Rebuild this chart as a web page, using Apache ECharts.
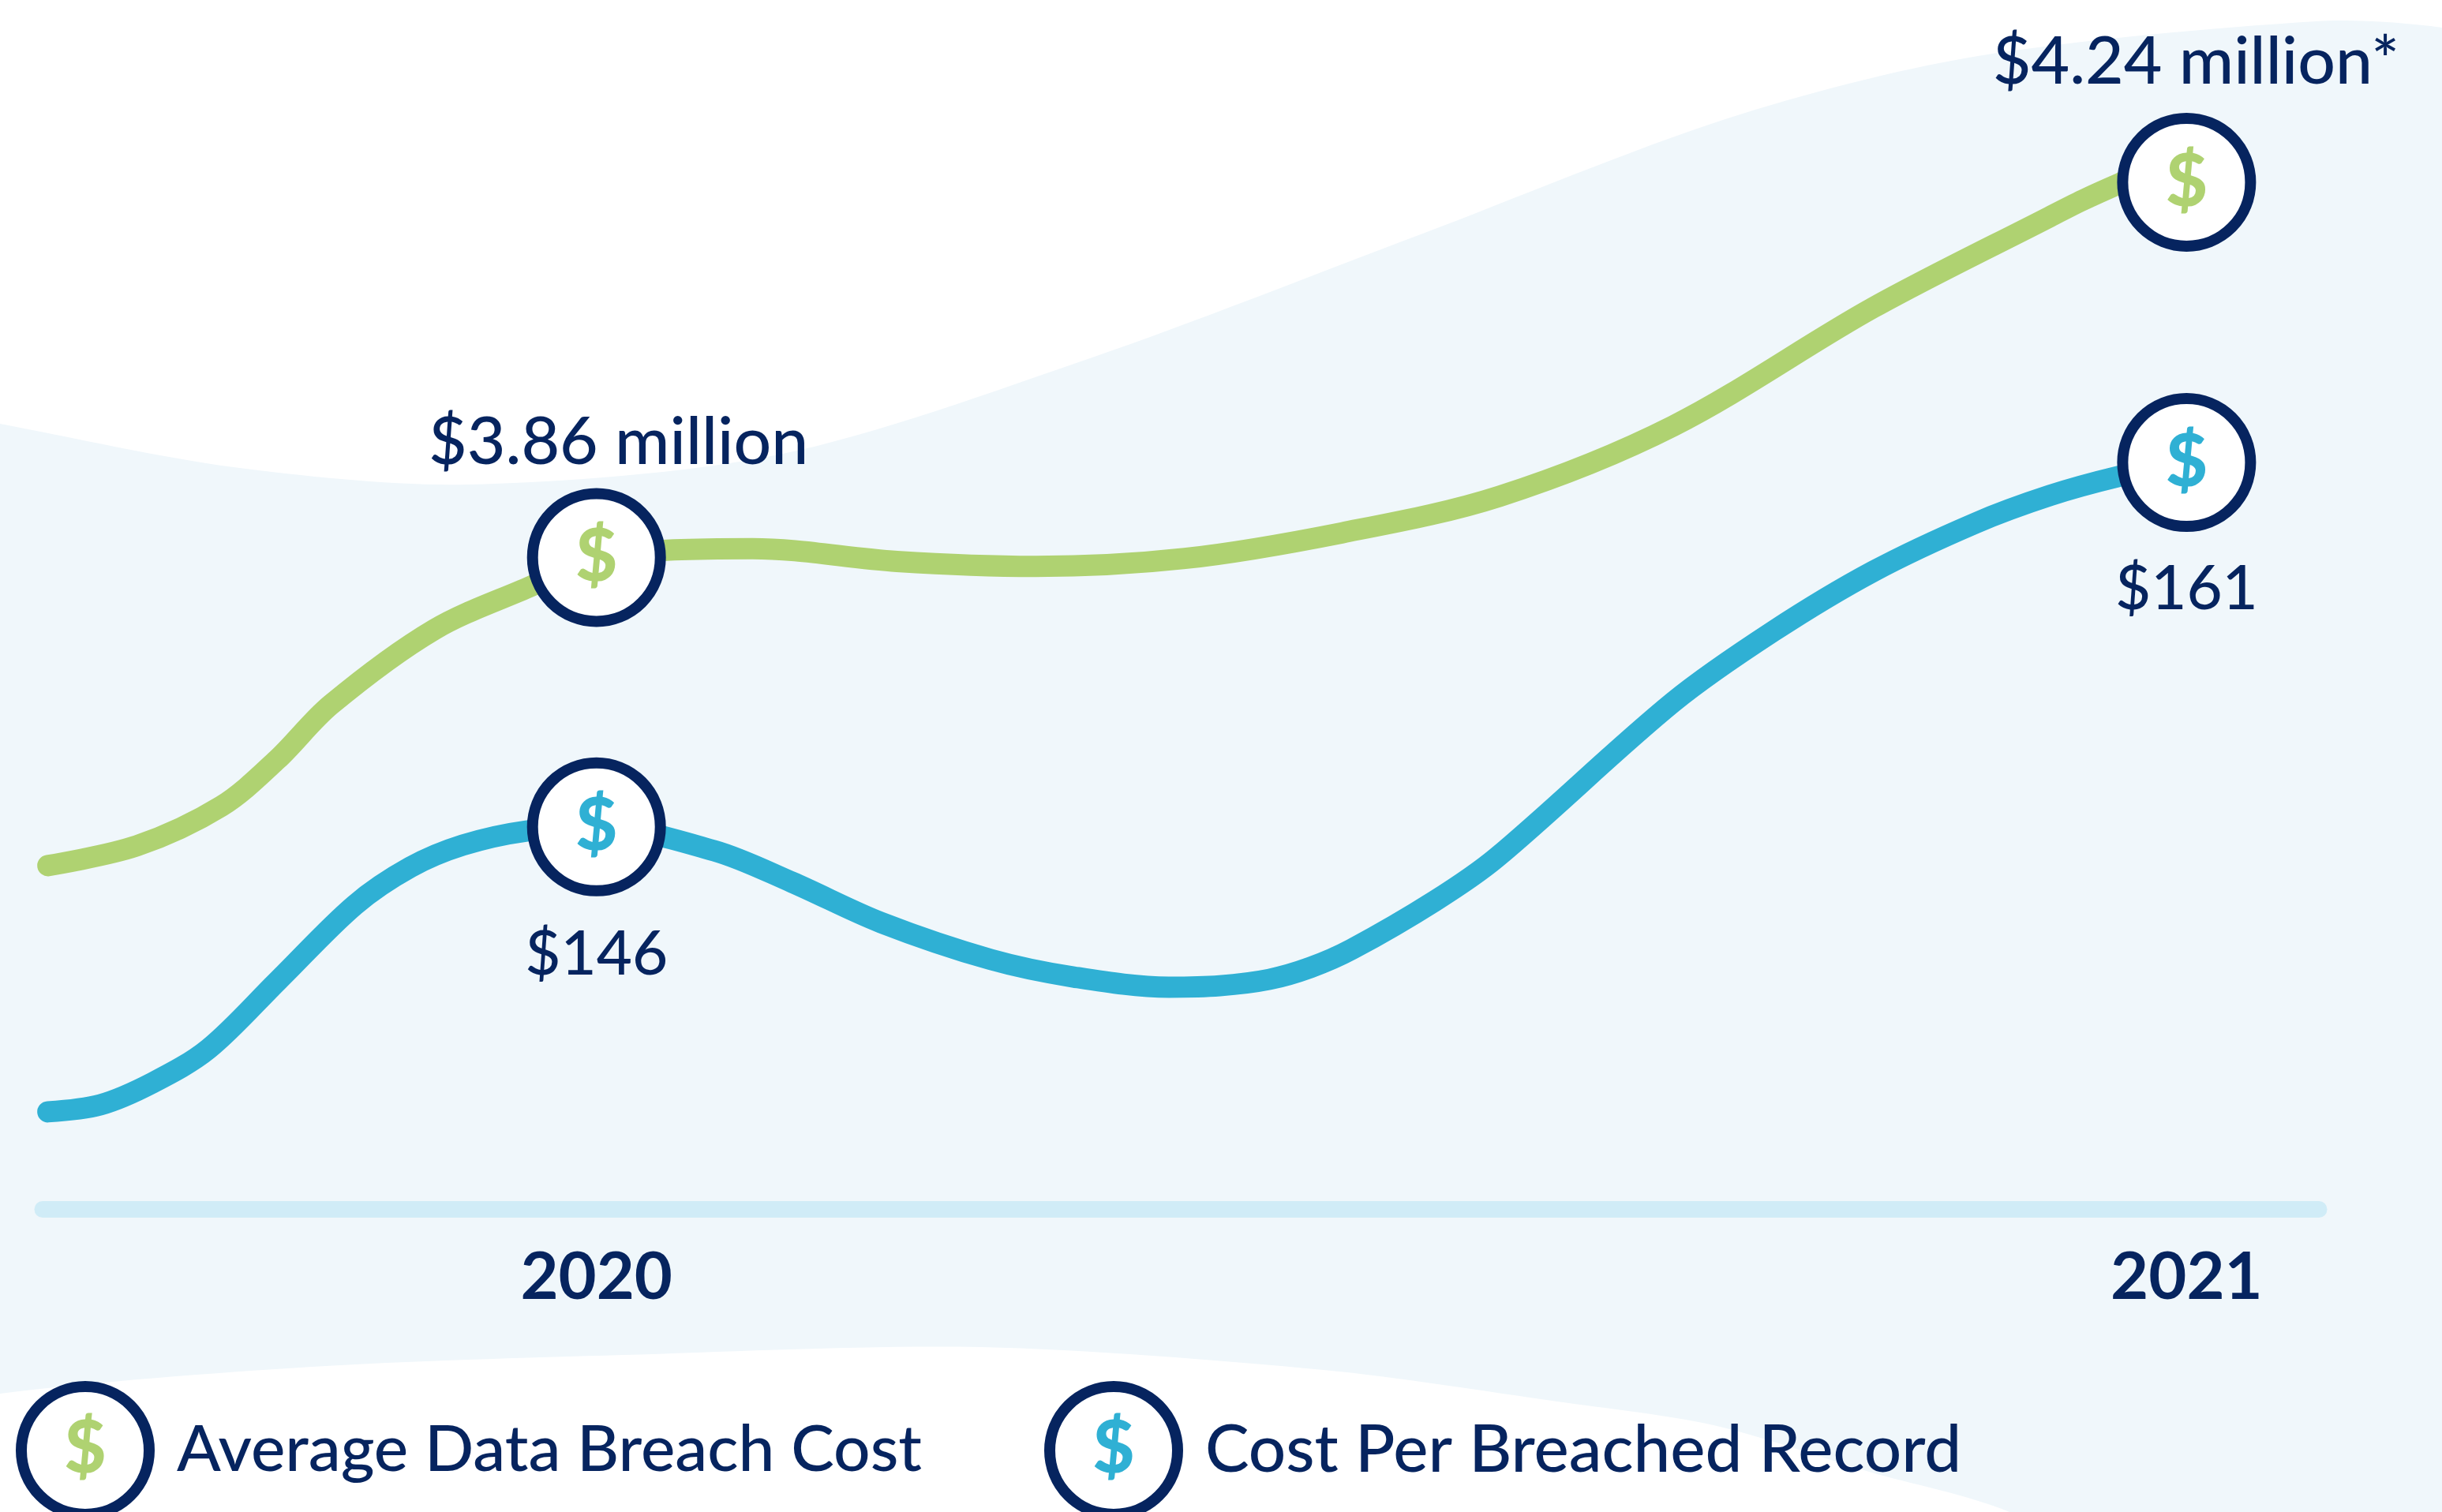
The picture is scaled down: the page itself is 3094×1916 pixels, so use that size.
<!DOCTYPE html>
<html>
<head>
<meta charset="utf-8">
<title>Data breach cost</title>
<script src="https://cdn.jsdelivr.net/npm/echarts@6/dist/echarts.min.js"></script>
<style>
  html, body { margin: 0; padding: 0; background: #fff; }
  #chart { width: 3094px; height: 1916px; }
</style>
</head>
<body>
<div id="chart"></div>
<script>
// Values
const tickYears = [2020, 2021];

const avgCostName = 'Average Data Breach Cost';
const avgCostLabels = ['$3.86 million', '$4.24 million*'];
const avgCostPoints = [3.86, 4.24];
const avgCostYears = [2019.655, 2019.711, 2019.764, 2019.799, 2019.833, 2019.898, 2019.959, 2020, 2020.098, 2020.189, 2020.276, 2020.37, 2020.469, 2020.568, 2020.677, 2020.803, 2020.914, 2020.935, 2020.957, 2020.975, 2021];
const avgCostValues = [3.548, 3.568, 3.608, 3.655, 3.711, 3.787, 3.831, 3.86, 3.869, 3.856, 3.851, 3.859, 3.885, 3.922, 3.993, 4.113, 4.205, 4.222, 4.238, 4.25, 4.24];

const recordCostName = 'Cost Per Breached Record';
const recordCostLabels = ['$146', '$161'];
const recordCostPoints = [146, 161];
const recordCostYears = [2019.655, 2019.688, 2019.721, 2019.756, 2019.8, 2019.848, 2019.883, 2019.916, 2019.956, 2020, 2020.074, 2020.123, 2020.179, 2020.248, 2020.3, 2020.36, 2020.392, 2020.423, 2020.449, 2020.475, 2020.527, 2020.566, 2020.677, 2020.74, 2020.803, 2020.867, 2020.914, 2020.957, 2021];
const recordCostValues = [134.27, 134.56, 135.47, 136.86, 139.69, 142.78, 144.34, 145.25, 145.83, 146, 145.02, 143.72, 142.06, 140.54, 139.82, 139.4, 139.46, 139.72, 140.21, 140.96, 142.94, 144.73, 151.13, 154.05, 156.52, 158.5, 159.64, 160.42, 161];

const NAVY = '#06245f';
const GREEN = '#afd271';
const BLUE = '#2fb0d4';
const FONT = 'Lato';

const zipXY = (xs, ys) => xs.map((x, i) => [x, ys[i]]);

const lineSeries = (name, xs, ys, color, yAxisIndex) => ({
  name,
  type: 'line',
  yAxisIndex,
  data: zipXY(xs, ys),
  smooth: 0.33,
  symbol: 'none',
  clip: false,
  z: 2,
  lineStyle: { color, width: 27, cap: 'round', join: 'round' }
});

const markerSeries = (name, ys, color, yAxisIndex) => ({
  name,
  type: 'scatter',
  yAxisIndex,
  data: zipXY(tickYears, ys),
  symbol: 'circle',
  symbolSize: 162,
  clip: false,
  z: 3,
  itemStyle: { color: '#fff', borderColor: NAVY, borderWidth: 14, opacity: 1 },
  label: {
    show: true,
    position: 'inside',
    formatter: '$',
    color,
    fontFamily: FONT,
    fontWeight: 900,
    fontSize: 92
  }
});

// Text beside each marker, offset from the data point
const valueLabelSeries = (name, ys, labels, offsets, fontSize, yAxisIndex) => ({
  name,
  type: 'scatter',
  yAxisIndex,
  symbolSize: 1,
  clip: false,
  z: 4,
  itemStyle: { color: 'transparent', opacity: 1 },
  data: ys.map((y, i) => ({
    value: [tickYears[i], y],
    label: {
      show: true,
      position: 'inside',
      formatter: labels[i],
      offset: offsets[i],
      color: NAVY,
      fontFamily: FONT,
      fontWeight: 500,
      fontSize
    }
  }))
});

const legendFor = (name, left, fontSize) => ({
  data: [name],
  left,
  top: 1745,
  icon: 'circle',
  itemWidth: 162,
  itemHeight: 162,
  selectedMode: false,
  itemStyle: { color: '#fff', borderColor: NAVY, borderWidth: 14 },
  textStyle: {
    color: NAVY,
    fontFamily: FONT,
    fontWeight: 500,
    fontSize,
    padding: [0, 0, 0, 30]
  }
});

const legendDollar = (x, color) => ({
  type: 'text',
  z: 100,
  style: {
    text: '$',
    x,
    y: 1836,
    fill: color,
    font: '900 92px ' + FONT,
    align: 'center',
    verticalAlign: 'middle'
  }
});

const chart = echarts.init(document.getElementById('chart'));

chart.setOption({
  animation: false,
  backgroundColor: '#fff',
  grid: { left: 54, right: 156, top: 0, bottom: 384 },
  xAxis: {
    type: 'value',
    min: 2019.6517,
    max: 2021.0832,
    splitLine: { show: false },
    axisTick: { show: false },
    axisLine: {
      show: true,
      onZero: false,
      lineStyle: { color: '#d0ecf7', width: 21, cap: 'round' }
    },
    axisLabel: {
      customValues: tickYears,
      formatter: (v) => String(v),
      color: NAVY,
      fontFamily: FONT,
      fontWeight: 700,
      fontSize: 83,
      margin: 46
    }
  },
  yAxis: [
    { type: 'value', show: false, min: 3.2003, max: 4.4245 },
    { type: 'value', show: false, min: 130.27, max: 180.04 }
  ],
  legend: [legendFor(avgCostName, 15, 82), legendFor(recordCostName, 1318, 83.5)],
  graphic: [
    {
      // Pale background wave, runs off the canvas on both sides
      type: 'polygon',
      z: -10,
      silent: true,
      shape: {
        smooth: 0.3,
        points: [
          [-300, 480], [0, 537], [296, 592], [592, 614], [987, 576], [1381, 454],
          [1800, 297], [2189, 150], [2500, 72], [2935, 27], [3094, 35], [3400, 90],
          [3600, 900], [3400, 2300], [2546, 1916], [2368, 1865], [2171, 1806], [1973, 1776],
          [1677, 1736], [1243, 1707], [789, 1717], [395, 1732], [0, 1766], [-300, 1820], [-600, 1100]
        ]
      },
      style: { fill: '#f0f7fb' }
    },
    legendDollar(108, GREEN),
    legendDollar(1411, BLUE)
  ],
  series: [
    lineSeries('Average line', avgCostYears, avgCostValues, GREEN, 0),
    lineSeries('Record line', recordCostYears, recordCostValues, BLUE, 1),
    markerSeries(avgCostName, avgCostPoints, GREEN, 0),
    markerSeries(recordCostName, recordCostPoints, BLUE, 1),
    valueLabelSeries('Average labels', avgCostPoints, avgCostLabels, [[28, -146], [12, -152]], 84, 0),
    valueLabelSeries('Record labels', recordCostPoints, recordCostLabels, [[0, 162], [0, 161]], 78, 1)
  ]
});
</script>
</body>
</html>
